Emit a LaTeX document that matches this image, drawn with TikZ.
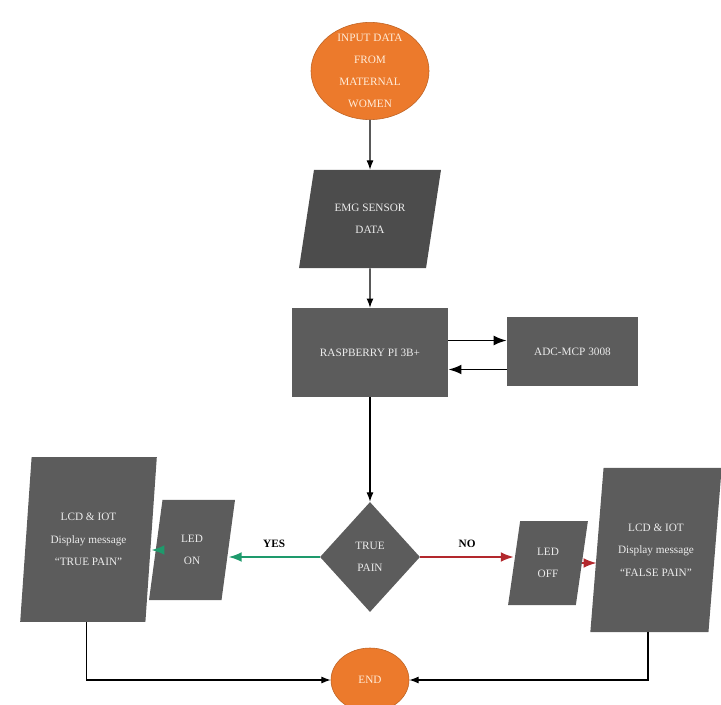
\documentclass[tikz,border=0pt]{standalone}
\usepackage{fontspec}
\setmainfont{Liberation Serif}
\usepackage{tikz}
\usetikzlibrary{arrows.meta,shapes.geometric}
\definecolor{boxgray}{HTML}{5C5C5C}
\definecolor{emggray}{HTML}{4C4C4C}
\definecolor{termorange}{HTML}{EC7A2C}
\definecolor{yesgreen}{HTML}{1E9A6C}
\definecolor{nored}{HTML}{B3282D}

\begin{document}
\begin{tikzpicture}[
    font=\fontsize{8}{16}\selectfont,
      >=Latex,
      x=0.025cm, y=-0.025cm,
      terminal/.style={ellipse, fill=termorange, draw=termorange!80!black, thin, text=orange!15, align=center, inner sep=0pt},
      termtext/.style={align=center, text=orange!15, font=\fontsize{8}{15.5}\selectfont},
      datain/.style={trapezium, trapezium stretches=true, fill=boxgray, text=gray!15, align=center, inner sep=2pt},
      process/.style={rectangle, fill=boxgray, text=gray!15, align=center},
      decision/.style={diamond, fill=boxgray, text=gray!15, align=center, minimum width=2.5cm, minimum height=2.75cm, inner sep=0pt},
      arrow/.style={->, thick, draw=black},
      link/.style={->, line width=1.4pt, draw=black},
      yes/.style={->, line width=1.4pt, draw=yesgreen},
      no/.style={->, line width=1.4pt, draw=nored}
    ]
      \useasboundingbox (0,0) rectangle (721,704);

      \node[terminal, minimum width=2.95cm, minimum height=2.43cm,
        label={[termtext]center:{INPUT DATA\\FROM\\MATERNAL\\WOMEN}}] (input) at (370,71) {};
      \node[datain, fill=emggray, trapezium left angle=74, trapezium right angle=106, minimum width=3.575cm, minimum height=2.45cm] (emg) at (370,219) {EMG SENSOR\\DATA};
      \node[process, minimum width=3.9cm, minimum height=2.22cm] (rpi) at (370,352.5) {RASPBERRY PI 3B+};
      \node[process, minimum width=3.27cm, minimum height=1.72cm] (adc) at (572.5,351.5) {ADC-MCP 3008};
      \node[decision] (pain) at (370,557) {TRUE\\PAIN};
      \node[datain, trapezium left angle=80, trapezium right angle=100, minimum width=2.15cm, minimum height=2.5cm] (ledon) at (192,550) {LED\\ON};
      \node[datain, trapezium left angle=80.5, trapezium right angle=99.5, minimum width=2cm, minimum height=2.1cm] (ledoff) at (548,563) {LED\\OFF};
      \node[datain, trapezium left angle=82, trapezium right angle=98, minimum width=3.43cm, minimum height=4.12cm] (lcdtrue) at (88.5,539.5) {LCD \& IOT\\Display message\\“TRUE PAIN”};
      \node[datain, trapezium left angle=80, trapezium right angle=100, minimum width=3.3cm, minimum height=4.1cm] (lcdfalse) at (656,550) {LCD \& IOT\\Display message\\“FALSE PAIN”};
      \node[terminal, minimum width=1.95cm, minimum height=1.6cm] (finish) at (370,680) {END};

      \draw[arrow] (input) -- (emg);
      \draw[arrow] (emg) -- (rpi);
      \draw[link] ([yshift=0.3cm]rpi.east) -- ([yshift=0.3cm]rpi.east -| adc.west);
      \draw[link] ([yshift=-0.45cm]adc.west) -- ([yshift=-0.45cm]adc.west -| rpi.east);
      \draw[arrow] (rpi) -- (pain);
      \draw[yes] (pain.west) -- node[above=3pt, text=black, font=\fontsize{8}{10}\selectfont\bfseries] {YES} (pain.west -| ledon.east);
      \draw[yes] (ledon.west) -- (ledon.west -| lcdtrue.east);
      \draw[no] (pain.east) -- node[above=3pt, text=black, font=\fontsize{8}{10}\selectfont\bfseries] {NO} (pain.east -| ledoff.west);
      \draw[no] (ledoff.east) -- (ledoff.east -| lcdfalse.west);
      \draw[arrow] ([xshift=-0.06cm]lcdtrue.south -| lcdtrue.center) |- (finish.west);
      \draw[arrow] ([xshift=-0.2cm]lcdfalse.south -| lcdfalse.center) |- (finish.east);
    \end{tikzpicture}
\end{document}
